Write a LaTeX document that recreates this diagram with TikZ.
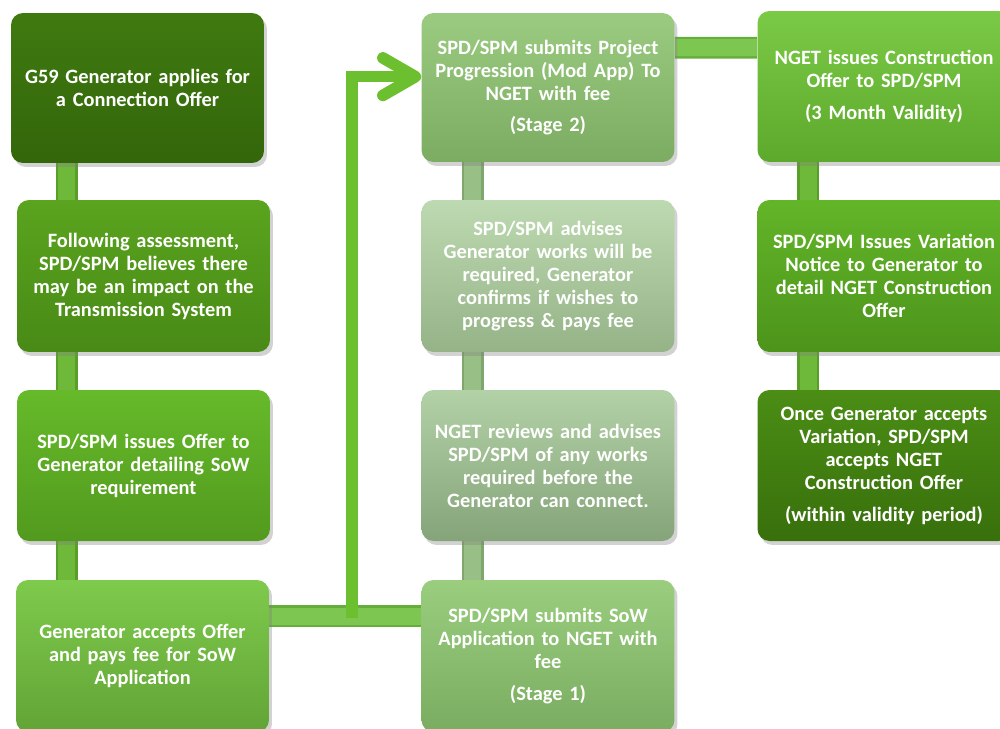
\documentclass[tikz,border=0pt]{standalone}
\usepackage{fontspec}
\setmainfont{Carlito}
\usetikzlibrary{calc,shadows,arrows.meta,backgrounds}
\definecolor{aT}{HTML}{3F7A10}\definecolor{aB}{HTML}{33660A}
\definecolor{bT}{HTML}{5AA41E}\definecolor{bB}{HTML}{488A16}
\definecolor{cT}{HTML}{66BA2A}\definecolor{cB}{HTML}{529A1E}
\definecolor{dT}{HTML}{7ECA4C}\definecolor{dB}{HTML}{62A436}
\definecolor{eT}{HTML}{9ACB80}\definecolor{eB}{HTML}{7BAC62}
\definecolor{fT}{HTML}{BDD9B1}\definecolor{fB}{HTML}{95B387}
\definecolor{gT}{HTML}{B3D1A6}\definecolor{gB}{HTML}{86A479}
\definecolor{hT}{HTML}{9ACE7E}\definecolor{hB}{HTML}{7AAC61}
\definecolor{iT}{HTML}{7BCA46}\definecolor{iB}{HTML}{5DA92C}
\definecolor{jT}{HTML}{63B528}\definecolor{jB}{HTML}{4C941B}
\definecolor{kT}{HTML}{4B8D15}\definecolor{kB}{HTML}{38700C}
\definecolor{barOne}{HTML}{5A9E2A}\definecolor{barOneL}{HTML}{6EB83A}
\definecolor{barTwo}{HTML}{7FA66C}\definecolor{barTwoL}{HTML}{98BF85}
\definecolor{barH}{HTML}{66AE3C}\definecolor{barHL}{HTML}{7EC652}
\definecolor{arr}{HTML}{6CBF2E}
\begin{document}
\begin{tikzpicture}[x=0.02cm,y=-0.02cm,
  box/.style={rounded corners=2.4mm, minimum width=5.06cm, minimum height=3.0cm,
    inner sep=0pt, text width=4.8cm, align=center, text=white,
    font=\fontsize{11.6}{13.1}\selectfont\bfseries,
    drop shadow={opacity=0.35,shadow xshift=0.6mm,shadow yshift=-0.8mm}},
  barone/.style={draw=barOne, line width=1.4pt, double=barOneL, double distance=9.6pt},
  bartwo/.style={draw=barTwo, line width=1.4pt, double=barTwoL, double distance=9.6pt},
  barh/.style={draw=barH, line width=1.4pt, double=barHL, double distance=9.6pt},
  thinarrow/.style={draw=arr, line width=6.6pt, -{Straight Barb[length=6.5mm,width=7.5mm,round]}},
]
\useasboundingbox (0,0) rectangle (1000,728);
\begin{scope}
\clip (0,0) rectangle (1000,728);
\node[box, top color=aT, bottom color=aB, minimum height=3.0cm] (A) at (137.5,88) {G59 Generator applies for\\ a Connection Offer};
\node[box, top color=bT, bottom color=bB, minimum height=3.04cm] (B) at (143.5,276) {Following assessment,\\ SPD/SPM believes there\\ may be an impact on the\\ Transmission System};
\node[box, top color=cT, bottom color=cB, minimum height=3.02cm] (C) at (143.5,465.5) {SPD/SPM issues Offer to\\ Generator detailing SoW\\ requirement};
\node[box, top color=dT, bottom color=dB, minimum height=3.04cm] (D) at (142.5,656) {Generator accepts Offer\\ and pays fee for SoW\\ Application};
\node[box, top color=eT, bottom color=eB, minimum height=2.98cm] (E) at (548,87.5) {SPD/SPM submits Project\\ Progression (Mod App) To\\ NGET with fee\\[5pt] (Stage 2)};
\node[box, top color=fT, bottom color=fB, minimum height=3.04cm] (F) at (548,276) {SPD/SPM advises\\ Generator works will be\\ required, Generator\\ confirms if wishes to\\ progress \& pays fee};
\node[box, top color=gT, bottom color=gB, minimum height=3.02cm] (G) at (548,465.5) {NGET reviews and advises\\ SPD/SPM of any works\\ required before the\\ Generator can connect.};
\node[box, top color=hT, bottom color=hB, minimum height=3.04cm] (H) at (548,656) {SPD/SPM submits SoW\\ Application to NGET with\\ fee\\[5pt] (Stage 1)};
\node[box, top color=iT, bottom color=iB, minimum height=3.02cm] (I) at (884,86.5) {NGET issues Construction\\ Offer to SPD/SPM\\[5pt] (3 Month Validity)};
\node[box, top color=jT, bottom color=jB, minimum height=3.04cm] (J) at (884,276) {SPD/SPM Issues Variation\\ Notice to Generator to\\ detail NGET Construction\\ Offer};
\node[box, top color=kT, bottom color=kB, minimum height=3.02cm] (K) at (884,465.5) {Once Generator accepts\\ Variation, SPD/SPM\\ accepts NGET\\ Construction Offer\\[5pt] (within validity period)};
\coordinate (jn) at (352,618);
\draw[thinarrow] (jn) |- ($(E.north west)+(0,64)$);
\end{scope}
\begin{pgfonlayer}{background}
\fill[white] (0,0) rectangle (1000,728);
\draw[barone] ($(A.south west)+(56,0)$) -- ($(B.north west)+(50,0)$);
\draw[barone] ($(B.south west)+(50,0)$) -- ($(C.north west)+(50,0)$);
\draw[barone] ($(C.south west)+(50,0)$) -- ($(D.north west)+(51,0)$);
\draw[bartwo] ($(E.south west)+(51.5,0)$) -- ($(F.north west)+(51.5,0)$);
\draw[bartwo] ($(F.south west)+(51.5,0)$) -- ($(G.north west)+(51.5,0)$);
\draw[bartwo] ($(G.south west)+(51.5,0)$) -- ($(H.north west)+(51.5,0)$);
\draw[barone] ($(I.south west)+(51,0)$) -- ($(J.north west)+(51,0)$);
\draw[barone] ($(J.south west)+(51,0)$) -- ($(K.north west)+(51,0)$);
\draw[barh] ($(D.north east)+(0,36.5)$) -- ($(H.north west)+(0,36.5)$);
\draw[barh] ($(E.north east)+(0,35)$) -- ($(I.north west)+(0,37)$);
\end{pgfonlayer}
\end{tikzpicture}
\end{document}
